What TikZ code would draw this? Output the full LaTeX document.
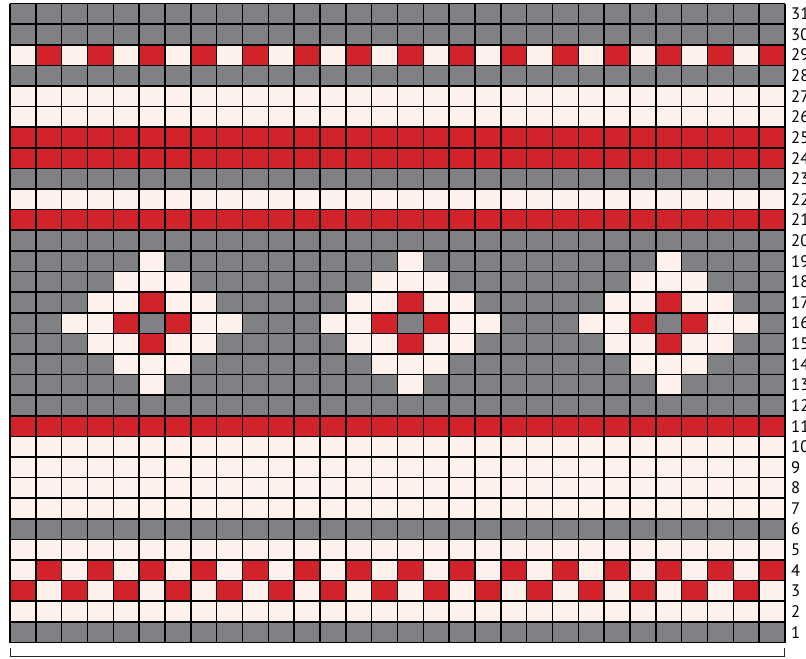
\documentclass[tikz,border=0pt]{standalone}
\usepackage{fontspec}
\setmainfont{PT Sans}
\usepackage{xcolor}
\usepackage{tikz}
\definecolor{puntogris}{RGB}{128,129,132}
\definecolor{puntorojo}{RGB}{210,35,42}
\definecolor{puntocrudo}{RGB}{254,240,234}
\def\anch{25.833}
\def\alt{20.613}
% celda: columna, fila, color
\newcommand{\celda}[3]{\fill[#3] ({10+(#1-1)*\anch},{642.5-(#2)*\alt}) rectangle ++(\anch,\alt);}
\begin{document}
\begin{tikzpicture}[x=0.75pt, y=-0.75pt, line width=1.1pt,
    rejilla/.style={black, line width=1.2pt},
    numfila/.style={anchor=west, inner sep=0pt, font=\fontsize{12.5}{14}\selectfont}]
    \useasboundingbox (0,0) rectangle (806,658);
    % filas lisas
    \foreach \f/\c in {1/puntogris,2/puntocrudo,3/puntocrudo,4/puntocrudo,5/puntocrudo,6/puntogris,
        7/puntocrudo,8/puntocrudo,9/puntocrudo,10/puntocrudo,11/puntorojo,12/puntogris,13/puntogris,
        14/puntogris,15/puntogris,16/puntogris,17/puntogris,18/puntogris,19/puntogris,20/puntogris,
        21/puntorojo,22/puntocrudo,23/puntogris,24/puntorojo,25/puntorojo,26/puntocrudo,27/puntocrudo,
        28/puntogris,29/puntocrudo,30/puntogris,31/puntogris}
        \fill[\c] (10,{642.5-\f*\alt}) rectangle ++({30*\anch},\alt);
    % damero filas 3, 4 y 29
    \foreach \k in {1,3,...,29} {\celda{\k}{3}{puntorojo}}
    \foreach \k in {2,4,...,30} {\celda{\k}{4}{puntorojo} \celda{\k}{29}{puntorojo}}
    % rombos (centro en fila 16)
    \foreach \m in {6,16,26} {
        \foreach \f/\w in {19/0,18/1,17/2,16/3,15/2,14/1,13/0}
            \fill[puntocrudo] ({10+(\m-1-\w)*\anch},{642.5-\f*\alt}) rectangle ++({(2*\w+1)*\anch},\alt);
        \celda{\m}{17}{puntorojo} \celda{\m}{15}{puntorojo}
        \celda{\m-1}{16}{puntorojo} \celda{\m+1}{16}{puntorojo}
        \celda{\m}{16}{puntogris}
    }
    % rejilla
    \foreach \k in {0,...,30}
        \draw[rejilla] ({10+\k*\anch},{642.5-31*\alt}) -- ({10+\k*\anch},642.5);
    \foreach \f in {0,...,31}
        \draw[rejilla] (10,{642.5-\f*\alt}) -- ({10+30*\anch},{642.5-\f*\alt});
    % numeros de fila
    \foreach \f in {1,...,31}
        \node[numfila] (fila\f) at (790.5,{642.5-(\f-0.5)*\alt}) {\f};
    % llave inferior
    \coordinate (llaveizq) at (10.5,648);
    \coordinate (llaveder) at (784.5,648);
    \draw[black!85, line width=1.1pt] (llaveizq) -- ++(0,8.5) -| (llaveder);
\end{tikzpicture}
\end{document}
